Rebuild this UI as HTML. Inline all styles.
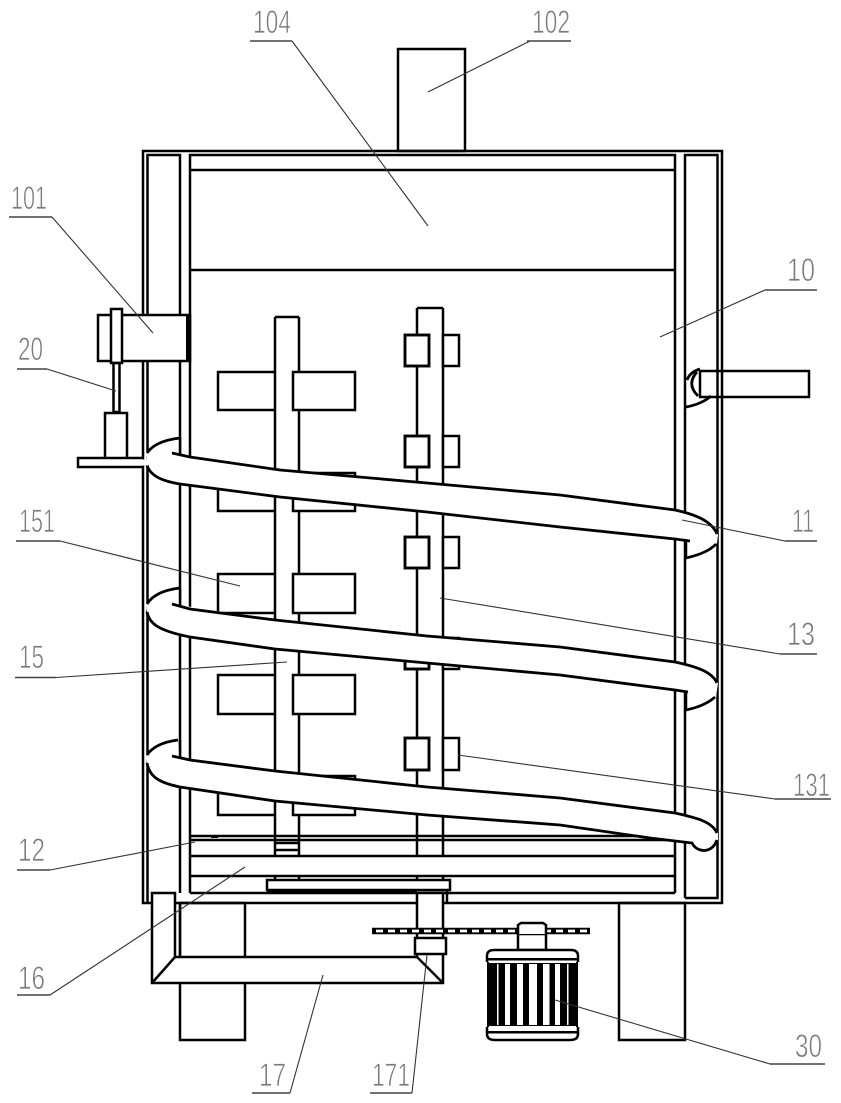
<!DOCTYPE html>
<html>
<head>
<meta charset="utf-8">
<style>
html,body{margin:0;padding:0;background:#fff;width:841px;height:1103px;overflow:hidden}
svg{display:block}
.l{stroke:#000;stroke-width:2.5;fill:none}
.w{stroke:#000;stroke-width:2.5;fill:#fff}
.c{stroke:#000;stroke-width:2.8;fill:none}
.f{fill:#fff;stroke:none}
.lead{stroke:#333;stroke-width:1.1;fill:none}
.ul{stroke:#444;stroke-width:1.6;fill:none}
text{font-family:"Liberation Sans",sans-serif;font-size:32px;fill:#7a7a7a;stroke:#fff;stroke-width:.7px}
</style>
</head>
<body>
<svg width="841" height="1103" viewBox="0 0 841 1103" xmlns="http://www.w3.org/2000/svg">
<rect width="841" height="1103" fill="#fff"/>

<!-- chimney -->
<rect class="l" x="398" y="49" width="67" height="102"/>
<!-- legs -->
<rect class="l" x="180" y="903" width="65" height="137"/>
<rect class="l" x="619" y="903" width="66" height="137"/>

<!-- housing -->
<rect class="l" x="143" y="151" width="579" height="752"/>
<path class="l" d="M147.500 903V155H180V893"/>
<path class="l" d="M190 893V155H675V893"/>
<path class="l" d="M685 898V155H717.500V898H685"/>
<line class="l" x1="190" y1="170" x2="675" y2="170"/>
<line class="l" x1="190" y1="270" x2="675" y2="270"/>
<line class="l" x1="190" y1="836" x2="675" y2="836"/>
<line class="l" x1="190" y1="840" x2="675" y2="840"/>
<line class="l" x1="190" y1="856" x2="675" y2="856"/>
<line class="l" x1="190" y1="876" x2="675" y2="876"/>
<line class="l" x1="190" y1="893" x2="675" y2="893"/>
<rect x="211" y="835" width="7" height="3" fill="#000"/>

<!-- shaft 15 -->
<line class="l" x1="275" y1="317" x2="275" y2="856"/>
<line class="l" x1="299" y1="317" x2="299" y2="856"/>
<line class="l" x1="275" y1="317" x2="299" y2="317"/>
<line class="l" x1="275" y1="843" x2="299" y2="843"/>
<line class="l" x1="275" y1="850" x2="299" y2="850"/>
<line class="l" x1="275" y1="876" x2="275" y2="881"/>
<line class="l" x1="299" y1="876" x2="299" y2="891"/>
<!-- big paddles -->
<path class="l" d="M275 372H218V410H275"/>
<rect class="w" x="293" y="372" width="62" height="38"/>
<path class="l" d="M275 473H218V511H275"/>
<rect class="w" x="293" y="473" width="62" height="38"/>
<path class="l" d="M275 574H218V613H275"/>
<rect class="w" x="293" y="574" width="62" height="39"/>
<path class="l" d="M275 675H218V714H275"/>
<rect class="w" x="293" y="675" width="62" height="39"/>
<path class="l" d="M275 776H218V815H275"/>
<rect class="w" x="293" y="776" width="62" height="39"/>

<!-- shaft 13 -->
<line class="l" x1="417" y1="308" x2="417" y2="856"/>
<line class="l" x1="443" y1="308" x2="443" y2="856"/>
<line class="l" x1="417" y1="308" x2="443" y2="308"/>
<line class="l" x1="417" y1="876" x2="417" y2="880"/>
<line class="l" x1="443" y1="876" x2="443" y2="880"/>
<!-- small paddles -->
<rect class="w" x="443" y="335" width="16" height="31"/>
<rect class="w" x="443" y="436" width="16" height="31"/>
<rect class="w" x="443" y="537" width="16" height="31"/>
<rect class="w" x="443" y="638" width="16" height="31"/>
<rect class="w" x="443" y="738" width="16" height="32"/>
<rect class="w" x="405" y="335" width="24" height="31" style="stroke-width:2.9"/>
<rect class="w" x="405" y="436" width="24" height="31" style="stroke-width:2.9"/>
<rect class="w" x="405" y="537" width="24" height="31" style="stroke-width:2.9"/>
<rect class="w" x="405" y="638" width="24" height="31" style="stroke-width:2.9"/>
<rect class="w" x="405" y="738" width="24" height="32" style="stroke-width:2.9"/>

<!-- plate and belt -->
<rect class="w" x="267" y="880" width="183" height="10"/>
<rect x="267" y="889" width="150" height="3" fill="#000"/>
<line class="l" x1="447" y1="890" x2="447" y2="903"/>

<!-- coil fills -->
<path class="f" d="M180 438Q155 441 146 452C146 470 155 480 180 484L280 497L427 512L560 527L675 539L686 541V558Q708 553 717 543L718 535C714 522 700 515 675 510L560 495L427 483L280 470L172 453L180 455Z"/>
<path class="f" d="M180 588Q155 591 146 604C146 618 155 630 190 637L275 649L427 663L560 675L675 690L686 692V710Q705 706 716 697L718 683C714 672 700 668 675 662L560 647L427 636L275 620L172 604L180 606Z"/>
<path class="f" d="M178 740Q155 743 146 756C146 770 155 782 180 787L275 801L427 815L560 825L650 838L692 843C697 853 712 854 718 840L718 833C714 822 700 818 675 813L560 798L427 787L275 771L172 756L180 758Z"/>

<!-- coil 1 -->
<path class="c" d="M180 438Q155 441 147 453"/>
<path class="c" d="M172 453L190 457L280 470L427 483L560 495L675 510C698 515 712 522 717 534"/>
<path class="c" d="M146 462C148 472 155 480 180 484L280 497L427 512L560 527L675 539L690 541"/>
<path class="c" d="M686 558Q708 553 716 544"/>
<line class="l" x1="180" y1="438" x2="180" y2="454"/>
<line class="l" x1="686" y1="541" x2="686" y2="558"/>

<!-- coil 2 -->
<path class="c" d="M180 588Q155 591 147 604"/>
<path class="c" d="M172 604L190 609L275 620L427 636L560 647L675 662C698 667 712 672 717 683"/>
<path class="c" d="M147 612C149 622 155 630 190 637L275 649L427 663L560 675L675 690L688 692"/>
<path class="c" d="M686 710Q705 706 715 697"/>
<line class="l" x1="180" y1="588" x2="180" y2="606"/>
<line class="l" x1="686" y1="692" x2="686" y2="710"/>

<!-- coil 3 -->
<path class="c" d="M178 740Q155 743 147 755"/>
<path class="c" d="M172 756L190 760L275 771L427 787L560 798L675 813C698 818 712 822 717 833"/>
<path class="c" d="M147 763C149 774 155 782 180 787L275 801L427 815L560 825L650 838L692 843C697 853 712 854 717 840"/>
<line class="l" x1="180" y1="740" x2="180" y2="758"/>

<!-- left actuator -->
<rect class="w" x="98" y="315" width="92" height="46"/>
<rect class="w" x="111" y="309" width="11" height="54"/>
<rect x="186" y="314" width="5" height="48" fill="#000"/>
<rect class="l" x="113.500" y="363" width="6" height="49"/>
<rect class="w" x="105" y="413" width="22" height="46"/>
<path class="w" d="M143 458H78V467H143"/>
<rect class="f" x="141" y="459.500" width="7" height="6"/>

<!-- right handle -->
<path class="f" d="M687 380Q692 371 706 369V399L687 406Z"/>
<path class="c" d="M687 380Q690 372 700 369M697 372Q686 384 698 396M686 407Q702 404 711 396"/>
<path class="l" d="M700 371H809V397H700Z"/>

<!-- trough 17 -->
<path class="w" d="M152 893H175V957H417V893H443V983H152Z"/>
<line class="l" x1="175" y1="957" x2="152" y2="983"/>
<line class="l" x1="417" y1="957" x2="443" y2="983"/>
<line class="l" x1="180" y1="903" x2="180" y2="957"/>
<!-- collar -->
<rect class="w" x="415" y="938" width="31" height="16"/>
<!-- chain -->
<line x1="372" y1="931" x2="590" y2="931" stroke="#000" stroke-width="6.500"/>
<line x1="376" y1="931" x2="587" y2="931" stroke="#fff" stroke-width="2.800" stroke-dasharray="7 5"/>

<!-- motor -->
<rect class="w" x="518" y="934" width="28" height="16"/>
<path class="w" d="M518 934V925L521 923H543L546 925V934"/>
<rect x="487" y="962" width="91" height="65" fill="#000"/>
<rect class="f" x="497" y="964" width="1.500" height="61"/>
<rect class="f" x="505" y="964" width="5" height="61"/>
<rect class="f" x="517" y="964" width="6" height="61"/>
<rect class="f" x="529" y="964" width="8" height="61"/>
<rect class="f" x="543" y="964" width="6.500" height="61"/>
<rect class="f" x="555" y="964" width="5" height="61"/>
<rect class="f" x="567" y="964" width="1.500" height="61"/>
<path class="w" d="M487 962V956Q487 950 494 950H571Q578 950 578 956V962"/>
<rect x="487" y="958" width="91" height="2.500" fill="#000"/>
<rect class="f" x="489" y="960.500" width="87" height="2.500"/>
<path class="w" d="M487 1027V1034Q487 1040 495 1040H570Q578 1040 578 1034V1027"/>
<rect class="f" x="489" y="1026" width="87" height="5"/>
<rect x="487" y="1031" width="91" height="2.500" fill="#000"/>

<!-- leaders -->
<path class="lead" d="M530 41L428 92"/><path class="ul" d="M571 41H527"/>
<path class="lead" d="M292 41L428 226"/><path class="ul" d="M250 41H292"/>
<path class="lead" d="M52 217L153 333"/><path class="ul" d="M9 217H52"/>
<path class="lead" d="M47 369L116 391"/><path class="ul" d="M17 369H47"/>
<path class="lead" d="M765 290L660 337"/><path class="ul" d="M817 290H765"/>
<path class="lead" d="M785 541L682 520"/><path class="ul" d="M817 541H785"/>
<path class="lead" d="M60 541L240 586"/><path class="ul" d="M16 541H60"/>
<path class="lead" d="M780 654L440 598"/><path class="ul" d="M817 654H780"/>
<path class="lead" d="M56 677.500L287 662"/><path class="ul" d="M15 677.500H56"/>
<path class="lead" d="M775 799L458 755"/><path class="ul" d="M831 799H775"/>
<path class="lead" d="M50 870L195 842"/><path class="ul" d="M17 870H50"/>
<path class="lead" d="M50 995L245 867"/><path class="ul" d="M17 995H50"/>
<path class="lead" d="M290 1093L323 975"/><path class="ul" d="M252 1093H290"/>
<path class="lead" d="M412 1093L427 955"/><path class="ul" d="M370 1093H412"/>
<path class="lead" d="M770 1064L555 1000"/><path class="ul" d="M825 1064H770"/>

<!-- labels -->
<text x="532" y="33" textLength="38" lengthAdjust="spacingAndGlyphs">102</text>
<text x="253" y="33" textLength="38" lengthAdjust="spacingAndGlyphs">104</text>
<text x="11" y="209" textLength="36" lengthAdjust="spacingAndGlyphs">101</text>
<text x="18" y="360" textLength="25" lengthAdjust="spacingAndGlyphs">20</text>
<text x="787" y="281" textLength="28" lengthAdjust="spacingAndGlyphs">10</text>
<text x="792" y="532" textLength="22" lengthAdjust="spacingAndGlyphs">11</text>
<text x="19" y="532" textLength="36" lengthAdjust="spacingAndGlyphs">151</text>
<text x="787" y="645" textLength="28" lengthAdjust="spacingAndGlyphs">13</text>
<text x="19" y="668" textLength="25" lengthAdjust="spacingAndGlyphs">15</text>
<text x="793" y="796" textLength="37" lengthAdjust="spacingAndGlyphs">131</text>
<text x="18" y="861" textLength="27" lengthAdjust="spacingAndGlyphs">12</text>
<text x="18" y="989" textLength="27" lengthAdjust="spacingAndGlyphs">16</text>
<text x="259" y="1086" textLength="27" lengthAdjust="spacingAndGlyphs">17</text>
<text x="372" y="1086" textLength="38" lengthAdjust="spacingAndGlyphs">171</text>
<text x="795" y="1057" textLength="27" lengthAdjust="spacingAndGlyphs">30</text>
</svg>
</body>
</html>
